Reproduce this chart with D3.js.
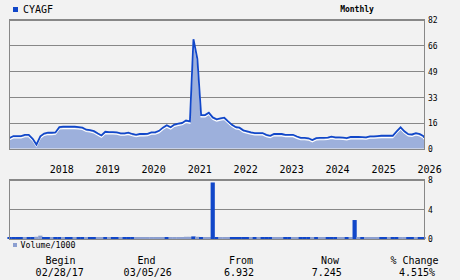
<!DOCTYPE html>
<html>
<head>
<meta charset="utf-8">
<script src="https://cdn.jsdelivr.net/npm/d3@7"></script>
<style>
  body { margin: 0; background: #f2f2f2; }
  svg { display: block; }
  text { font-family: "DejaVu Sans Mono", monospace; fill: #000; }
</style>
</head>
<body>
<svg></svg>
<script>
var symbol = "CYAGF";
var period = "Monthly";

// monthly closes, Feb 2017 .. Feb 2026 (month ends)
var prices = [
  7.0, 8.2, 8.2, 8.2, 8.9, 8.9, 6.5, 2.8, 8.0, 9.8,
  10.3, 10.3, 10.5, 13.8, 14.1, 14.1, 14.1, 14.1, 13.8, 13.5,
  12.2, 12.0, 11.3, 9.8, 8.6, 10.9, 10.7, 10.7, 10.5, 9.9,
  9.9, 10.4, 9.5, 8.9, 9.5, 9.5, 9.6, 10.5, 10.5, 11.5,
  13.5, 15.0, 13.8, 15.5, 16.0, 16.5, 18.0, 17.5, 69.5, 57.0,
  21.5, 21.5, 23.0, 20.0, 18.8, 19.4, 19.8, 17.5, 15.3, 13.8,
  13.5, 11.8, 11.2, 10.5, 10.1, 10.1, 10.1, 9.0, 8.3, 9.5,
  9.5, 9.5, 9.0, 9.0, 9.0, 7.9, 7.0, 7.0, 6.8, 5.7,
  6.9, 7.0, 7.0, 7.2, 7.8, 7.4, 7.3, 7.2, 6.9, 7.6,
  7.6, 7.6, 7.5, 7.4, 8.0, 8.0, 8.2, 8.4, 8.4, 8.4,
  8.4, 11.2, 13.7, 11.2, 9.4, 9.2, 10.0, 9.4, 8.2
];
var lastPrice = 7.245;

// volume / 1000 per month
var volumes = [
  0.2, 0.15, 0.1, 0.15, 0.2, 0.1, 0.2, 0.3, 0.45, 0.2,
  0.15, 0.1, 0.2, 0.15, 0.1, 0.1, 0.15, 0.1, 0.2, 0.15,
  0.1, 0.15, 0.2, 0.15, 0.1, 0.2, 0.1, 0.15, 0.1, 0.1,
  0.15, 0.1, 0.1, 0.15, 0.1, 0.15, 0.2, 0.1, 0.1, 0.15,
  0.2, 0.25, 0.15, 0.2, 0.2, 0.25, 0.3, 0.3, 0.35, 0.3,
  0.2, 0.2, 0.15, 7.6, 0.2, 0.15, 0.1, 0.1, 0.15, 0.1,
  0.1, 0.15, 0.1, 0.1, 0.1, 0.15, 0.1, 0.1, 0.15, 0.1,
  0.1, 0.1, 0.15, 0.1, 0.1, 0.1, 0.15, 0.1, 0.1, 0.1,
  0.1, 0.15, 0.1, 0.1, 0.1, 0.15, 0.1, 0.1, 0.1, 0.15,
  2.55, 0.1, 0.1, 0.15, 0.1, 0.1, 0.1, 0.15, 0.1, 0.1,
  0.1, 0.2, 0.2, 0.15, 0.1, 0.1, 0.15, 0.1, 0.1
];

// 1 = dark (up) bar, 0 = light (down) bar
var volumeUp = [
  1, 1, 1, 1, 0, 1, 1, 0, 0, 1,
  1, 0, 1, 1, 0, 1, 1, 0, 1, 1,
  0, 1, 1, 0, 0, 1, 0, 1, 1, 0,
  1, 1, 1, 0, 0, 0, 0, 0, 0, 0,
  0, 1, 0, 0, 0, 0, 0, 0, 1, 0,
  1, 0, 0, 1, 1, 0, 0, 0, 1, 1,
  1, 1, 1, 0, 1, 0, 1, 1, 1, 0,
  0, 0, 1, 1, 0, 0, 1, 1, 1, 0,
  1, 0, 0, 1, 1, 1, 0, 0, 1, 0,
  1, 0, 1, 0, 0, 0, 0, 1, 1, 0,
  1, 1, 0, 0, 1, 1, 0, 1, 1
];

var priceTicks = [0, 16.4, 32.8, 49.2, 65.6, 82];
var volumeTicks = [0, 4, 8];
var summaryLabels = ["Begin", "End", "From", "Now", "% Change"];
var summaryValues = ["02/28/17", "03/05/26", "6.932", "7.245", "4.515%"];

var beginDate = new Date(2017, 1, 28);
var endDate = new Date(2026, 2, 5);

//Colours
var lineBlue = "#1147c9";
var areaBlue = "#9db0dc";
var lightBlue = "#8c9fd0";
var gridGray = "#888888";

var width = 460, height = 280;
var left = 9.5, right = 424;
var mainTop = 19.5, mainBottom = 149;
var volTop = 179.5, volBottom = 239;

var svg = d3.select("svg").attr("width", width).attr("height", height);

//Build the series, one point per month end plus the current quote.
var series = prices.map(function (p, i) {
  return { date: new Date(2017, 2 + i, 0), value: p, volume: volumes[i], up: volumeUp[i] };
});
series.push({ date: endDate, value: lastPrice, volume: null });

var x = d3.scaleTime().domain([beginDate, endDate]).range([left, right]);
var y = d3.scaleLinear().domain([0, 82]).range([mainBottom, mainTop]);
var yv = d3.scaleLinear().domain([0, 8]).range([volBottom, volTop]);

//Price panel grid + right axis
var yAxis = d3.axisRight(y)
  .tickValues(priceTicks)
  .tickSize(-(right - left))
  .tickPadding(4)
  .tickFormat(d3.format(".0f"));
var gy = svg.append("g").attr("transform", "translate(" + right + ",0)").call(yAxis);
gy.select(".domain").remove();
gy.selectAll("line").attr("stroke", gridGray).attr("shape-rendering", "crispEdges");
gy.selectAll("text").attr("font-size", 8).attr("font-family", "DejaVu Sans Mono").attr("dy", "0.36em");

//Area, white edge, then blue line
var area = d3.area()
  .x(function (d) { return x(d.date); })
  .y0(mainBottom - 0.5)
  .y1(function (d) { return y(d.value) + 1; });
var line = d3.line()
  .x(function (d) { return x(d.date); })
  .y(function (d) { return y(d.value); });

svg.append("path").datum(series).attr("d", area).attr("fill", areaBlue);
svg.append("path").datum(series).attr("d", line)
  .attr("fill", "none").attr("stroke", "#ffffff").attr("stroke-width", 1.2)
  .attr("transform", "translate(0,1.8)");
svg.append("path").datum(series).attr("d", line)
  .attr("fill", "none").attr("stroke", lineBlue).attr("stroke-width", 1.8)
  .attr("stroke-linejoin", "miter");

//Frame of price panel
svg.append("rect")
  .attr("x", left).attr("y", mainTop)
  .attr("width", right - left).attr("height", mainBottom - mainTop)
  .attr("fill", "none").attr("stroke", gridGray).attr("shape-rendering", "crispEdges");

//Year labels
var xAxis = d3.axisBottom(x)
  .tickValues(d3.timeYear.range(new Date(2018, 0, 1), new Date(2026, 0, 2)))
  .tickSize(0)
  .tickPadding(0)
  .tickFormat(d3.timeFormat("%Y"));
var gx = svg.append("g").attr("transform", "translate(0,166)").call(xAxis);
gx.select(".domain").remove();
gx.selectAll("text").attr("font-size", 10).attr("font-family", "DejaVu Sans Mono")
  .attr("text-anchor", "start").attr("dy", "0.71em").attr("dx", "1");

//Volume panel
var vAxis = d3.axisRight(yv)
  .tickValues(volumeTicks)
  .tickSize(-(right - left))
  .tickPadding(4)
  .tickFormat(d3.format("d"));
var gv = svg.append("g").attr("transform", "translate(" + right + ",0)").call(vAxis);
gv.select(".domain").remove();
gv.selectAll("line").attr("stroke", gridGray).attr("shape-rendering", "crispEdges");
gv.selectAll("text").attr("font-size", 8).attr("font-family", "DejaVu Sans Mono").attr("dy", "0.36em");

var barW = 4.2;
svg.append("g").selectAll("rect")
  .data(series.filter(function (d) { return d.volume != null; }))
  .join("rect")
  .attr("x", function (d) { return x(d.date) - barW / 2; })
  .attr("width", barW)
  .attr("y", function (d) { return Math.min(yv(d.volume), volBottom - 2); })
  .attr("height", function (d) {
    var h = volBottom - Math.min(yv(d.volume), volBottom - 2);
    return d.up ? h : h + 1; //light bars sit a touch lower
  })
  .attr("fill", function (d) { return d.up ? lineBlue : lightBlue; });

svg.append("rect")
  .attr("x", left).attr("y", volTop)
  .attr("width", right - left).attr("height", volBottom - volTop)
  .attr("fill", "none").attr("stroke", gridGray).attr("shape-rendering", "crispEdges");

//Legends
svg.append("rect").attr("x", 13).attr("y", 7).attr("width", 5).attr("height", 5).attr("fill", lineBlue);
svg.append("text").attr("x", 23).attr("y", 12.5).attr("font-size", 10).text(symbol);
svg.append("text").attr("x", 357).attr("y", 12).attr("font-size", 8)
  .attr("font-weight", "bold").attr("text-anchor", "middle").text(period);

svg.append("rect").attr("x", 13).attr("y", 243).attr("width", 4).attr("height", 4).attr("fill", lightBlue);
svg.append("text").attr("x", 20.5).attr("y", 247.5).attr("font-size", 8.3).text("Volume/1000");

//Summary row
var labelX = [60.5, 146.5, 241, 330, 414.5];
var valueX = [59.7, 147.7, 239, 326.7, 417];
summaryLabels.forEach(function (s, i) {
  svg.append("text").attr("x", labelX[i]).attr("y", 263.5).attr("font-size", 10)
    .attr("text-anchor", "middle").text(s);
  svg.append("text").attr("x", valueX[i]).attr("y", 276).attr("font-size", 10)
    .attr("text-anchor", "middle").text(summaryValues[i]);
});
</script>
</body>
</html>
